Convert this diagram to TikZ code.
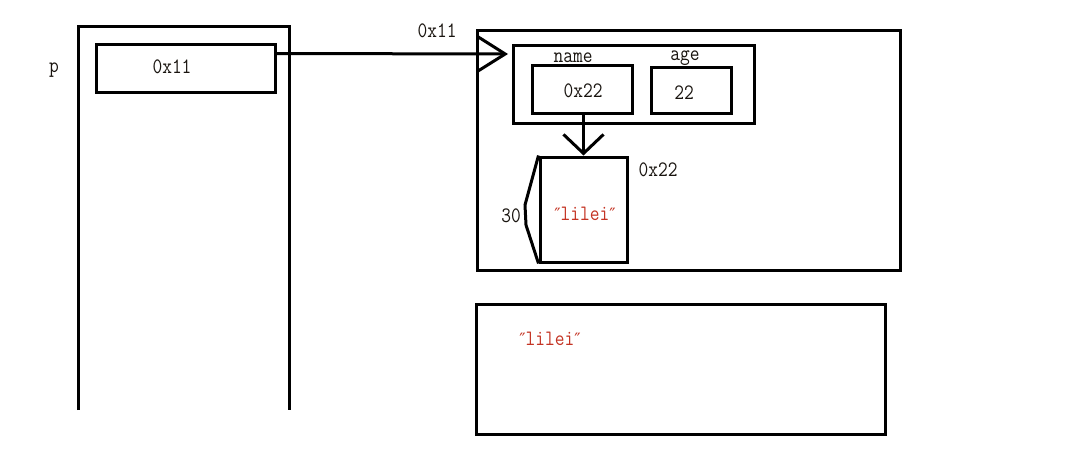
\documentclass[tikz,border=0pt]{standalone}
\usepackage{fontspec}
\setmainfont{Latin Modern Mono}[FakeStretch=0.86]
\newfontfamily\qfont{DejaVu Sans}
\usetikzlibrary{arrows.meta}
\definecolor{ink}{RGB}{25,20,15}
\definecolor{strred}{RGB}{196,52,36}
\newcommand{\dq}{{\qfont\fontsize{17}{19}\selectfont ″}}
\begin{document}
\begin{tikzpicture}[x=1pt,y=-1pt,
  box/.style={draw=black,line width=3pt,inner sep=0pt},
  lbl/.style={inner sep=0pt,text=ink,font=\fontsize{22}{24}\selectfont},
  strlbl/.style={inner sep=0pt,text=strred,font=\fontsize{22}{24}\selectfont},
  conn/.style={draw=black,line width=3pt}]
\useasboundingbox (0,0) rectangle (1067,460);
% left stack frame
\draw[line width=3pt] (78,410) -- (78,27) -- (289,27) -- (289,410);
\node[lbl] (plabel) at (54,70) {p};
\node[box,minimum width=179,minimum height=47] (p11) at (185.5,68.5) {};
\node[lbl] (p11text) at (172,67) {0x11};
% object at 0x11
\node[box,minimum width=423,minimum height=239] (obj) at (688.5,150.5) {};
\node[lbl] (objaddr) at (437,31) {0x11};
\node[box,minimum width=241,minimum height=77] (inner) at (633.5,84.5) {};
\node[lbl] (namelbl) at (573,58) {name};
\node[lbl] (agelbl) at (685,58) {age};
\node[box,minimum width=100,minimum height=48] (namebox) at (582,89) {};
\node[lbl] (nametext) at (583,91) {0x22};
\node[box,minimum width=80,minimum height=46] (agebox) at (691,90) {};
\node[lbl] (agetext) at (684,93) {22};
% string block at 0x22
\node[box,minimum width=87,minimum height=105] (strbox) at (583.5,209.5) {};
\node[lbl] (straddr) at (658,170) {0x22};
\node[strlbl] (strtext) at (585,214) {\dq lilei\dq};
\node[lbl] (len) at (511,216) {30};
\draw[line width=3pt] (strbox.north west) -- (525,205) -- (526,225) -- (strbox.south west);
% constant area
\node[box,minimum width=409,minimum height=130] (const) at (680.5,369) {};
\node[strlbl] (consttext) at (550,339) {\dq lilei\dq};
% connectors
\coordinate (tipA) at (508,54);
\draw[conn,-{Straight Barb[length=27pt,width=34pt,line width=3pt]}] ([yshift=-10]p11.north east) -- (tipA);
\draw[conn,-{Straight Barb[length=19pt,width=40pt,line width=3pt]}] (namebox.south -| strbox.north) -- (strbox.north);
\end{tikzpicture}
\end{document}
